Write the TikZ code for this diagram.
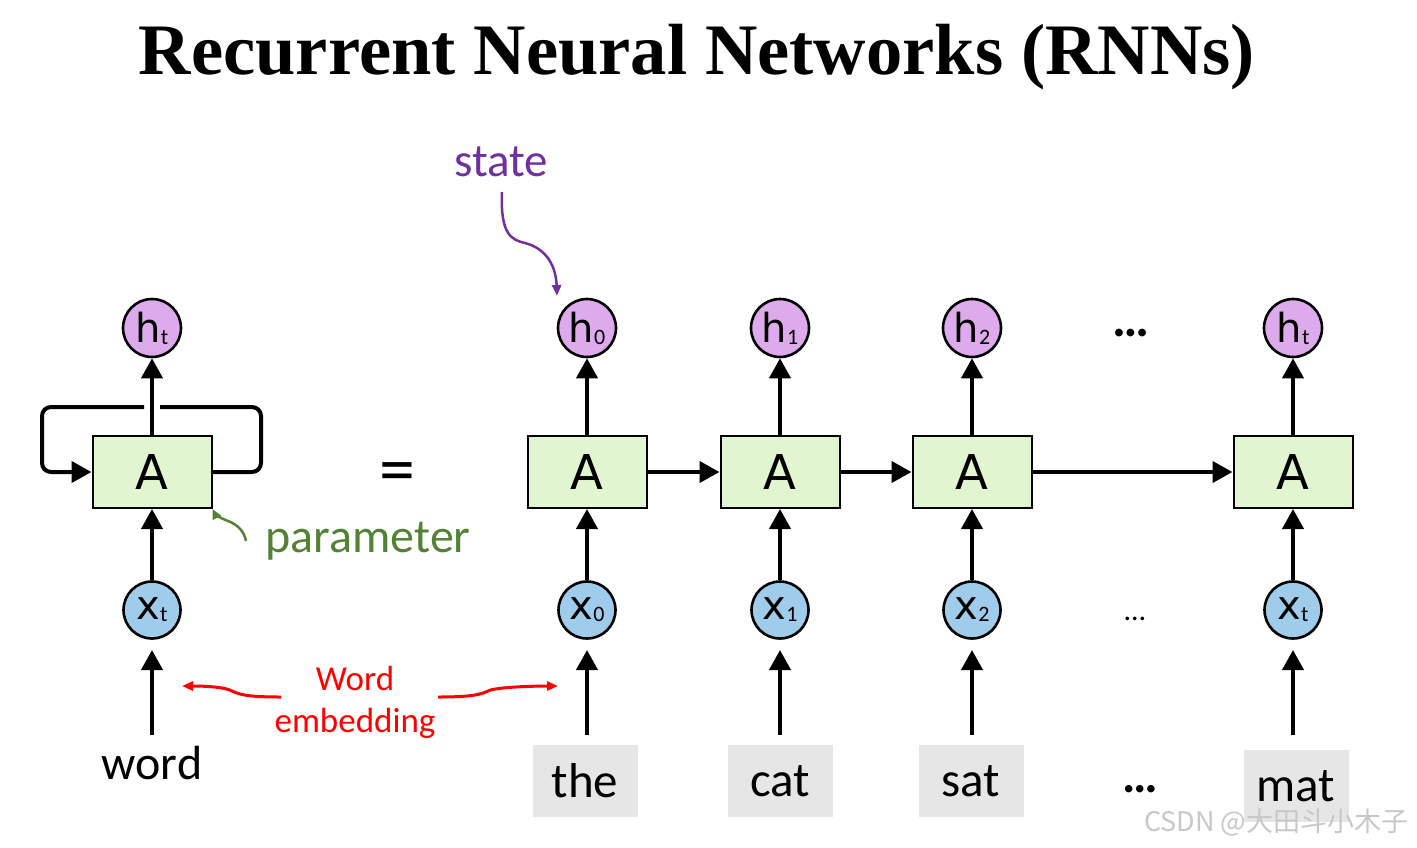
\documentclass[tikz,border=0pt]{standalone}
\usepackage{fontspec}
\setmainfont{Carlito}
\newfontfamily\titlefont{Liberation Serif}
\newfontfamily\dvs{DejaVu Sans}
\newfontfamily\cjkfont{Noto Sans CJK SC}
\usetikzlibrary{arrows.meta}
\definecolor{hfill}{RGB}{221,170,235}
\definecolor{xfill}{RGB}{160,204,236}
\definecolor{afill}{RGB}{225,246,208}
\definecolor{wfill}{RGB}{230,230,230}
\definecolor{statec}{RGB}{112,48,160}
\definecolor{paramc}{RGB}{84,130,53}
\definecolor{wmark}{RGB}{200,200,200}
\tikzset{
  hnode/.style={circle, draw=black, line width=2.6pt, fill=hfill, minimum size=58pt, inner sep=0pt, font=\dvs\fontsize{40}{40}\selectfont},
  xnode/.style={circle, draw=black, line width=2.6pt, fill=xfill, minimum size=57pt, inner sep=0pt, font=\dvs\fontsize{40}{40}\selectfont},
  anode/.style={rectangle, draw=black, line width=2pt, fill=afill, minimum width=119pt, minimum height=72pt, inner sep=0pt, font=\dvs\fontsize{48}{48}\selectfont},
  wordbox/.style={rectangle, fill=wfill, minimum width=105pt, minimum height=72pt, inner sep=0pt, font=\fontsize{49}{49}\selectfont},
  flow/.style={line width=4pt, -{Triangle[length=20pt,width=21pt]}},
  thinarrow/.style={line width=3pt, -{Triangle[length=11pt,width=9pt]}}
}
\newcommand{\sbs}[1]{\raisebox{-0.05em}{\normalfont\fontsize{22}{22}\selectfont #1}}
\begin{document}
\begin{tikzpicture}[x=1pt,y=-1pt]
\useasboundingbox[fill=white] (0,0) rectangle (1417,847);
% title
\node[font=\titlefont\bfseries\fontsize{72.5}{72.5}\selectfont] (title) at (697,57) {Recurrent Neural Networks (RNNs)};
% left folded RNN
\node[hnode] (lh) at (152,328) {h\sbs{t}};
\node[anode] (lA) at (152,472) {A};
\node[xnode] (lx) at (152,610) {x\sbs{t}};
\node[font=\fontsize{48}{48}\selectfont] (lword) at (152,763) {word};
\coordinate (lwtop) at (152,735);
\coordinate (lxbot) at (152,650);
\draw[flow] (lA.north) -- (lh.south);
\draw[flow] (lx.north) -- (lA.south);
\draw[flow] (lwtop) -- (lxbot);
\coordinate (loopR) at (261,407);
\coordinate (gapR) at (160,407);
\coordinate (gapL) at (144,407);
\coordinate (loopL) at (42,472);
\draw[line width=4pt, rounded corners=9pt] (lA.east) -| (loopR) -- (gapR);
\draw[flow, rounded corners=9pt] (gapL) -| (loopL) -- (lA.west);
% equals
\node[font=\fontsize{72}{72}\selectfont] (eq) at (397,478) {=};
% unrolled
\foreach \n/\xx/\hs/\xs in {0/587/0/0, 1/780/1/1, 2/972/2/2, t/1293/t/t}{
  \node[hnode] (h\n) at (\xx,328) {h\sbs{\hs}};
  \node[anode] (A\n) at (\xx,472) {A};
  \node[xnode] (x\n) at (\xx,610) {x\sbs{\xs}};
  \coordinate (wt\n) at (\xx,735);
  \coordinate (xb\n) at (\xx,650);
  \draw[flow] (A\n.north) -- (h\n.south);
  \draw[flow] (x\n.north) -- (A\n.south);
  \draw[flow] (wt\n) -- (xb\n);
}
\draw[flow] (A0.east) -- (A1.west);
\draw[flow] (A1.east) -- (A2.west);
\draw[flow] (A2.east) -- (At.west);
% words
\node[wordbox] (w0) at (585,781) {the};
\node[wordbox] (w1) at (780,781) {cat};
\node[wordbox] (w2) at (971,781) {sat};
\node[wordbox] (wt) at (1296,786) {mat};
% ellipses
\node[font=\bfseries\fontsize{52}{52}\selectfont] (dots1) at (1131,333) {…};
\node[font=\fontsize{30}{30}\selectfont] (dots2) at (1135,619) {…};
\node[font=\bfseries\fontsize{50}{50}\selectfont] (dots3) at (1140,789) {…};
% state
\node[text=statec, font=\fontsize{47}{47}\selectfont] (state) at (501,162) {state};
\coordinate (stS) at (502,192);
\coordinate (stE) at (557,296);
\draw[statec, line width=2.5pt, -{Triangle[length=11pt,width=9pt]}] (stS) .. controls (500,235) and (512,240) .. (525,243) .. controls (548,249) and (556,268) .. (stE);
% parameter
\node[text=paramc, font=\fontsize{48}{48}\selectfont, anchor=west] (param) at (262,541) {parameter};
\coordinate (paS) at (246,541);
\draw[paramc, line width=2.5pt, -{Triangle[length=10pt,width=9pt]}] (paS) .. controls (244,530) and (236,524) .. (228,521) .. controls (220,518) and (215,514) .. (lA.south east);
% word embedding
\node[text=red, font=\fontsize{35}{42}\selectfont, align=center] (emb) at (355,702) {Word\\embedding};
\coordinate (emL) at (182,686);
\coordinate (emR) at (558,686);
\coordinate (emLs) at (281,697);
\coordinate (emRs) at (438,697);
\draw[red, thinarrow] (emLs) .. controls (250,697) and (240,695) .. (232,691) .. controls (225,687) and (205,686) .. (emL);
\draw[red, thinarrow] (emRs) .. controls (469,697) and (480,695) .. (488,691) .. controls (495,687) and (535,686) .. (emR);
% watermark
\node[text=wmark, font=\cjkfont\fontsize{27}{27}\selectfont, anchor=east] (wm) at (1412,822) {CSDN @大田斗小木子};
\end{tikzpicture}
\end{document}
